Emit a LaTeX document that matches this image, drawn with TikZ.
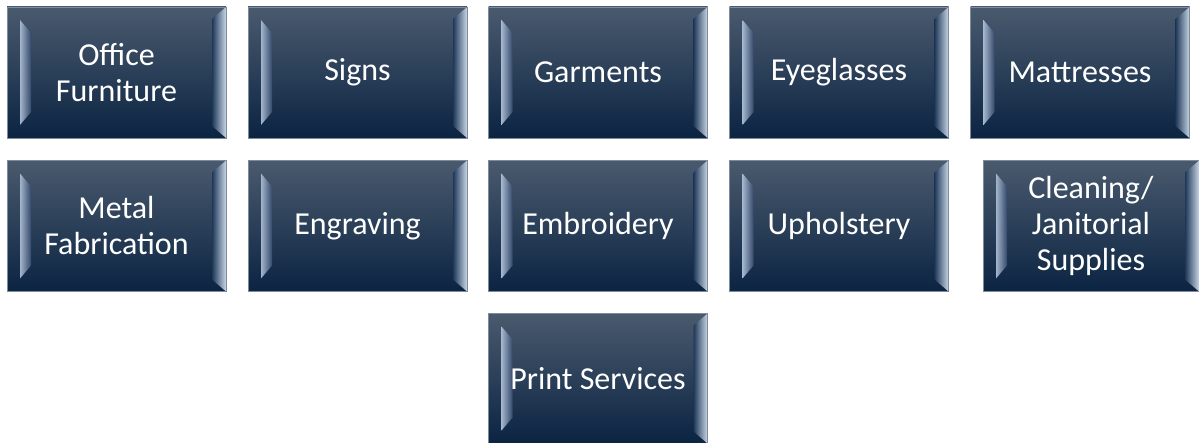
\documentclass[tikz,border=0pt]{standalone}
\usepackage{fontspec}
\setmainfont{Carlito}
\usetikzlibrary{calc}
\definecolor{boxtop}{HTML}{4A5A6E}
\definecolor{boxmid}{HTML}{1A3251}
\definecolor{boxbot}{HTML}{0B2442}
\definecolor{lfin}{HTML}{A3B5CC}
\definecolor{lfout}{HTML}{34496A}
\definecolor{rfin}{HTML}{1F3858}
\definecolor{rfmid}{HTML}{52698A}
\definecolor{rfout}{HTML}{C8D6E6}
\definecolor{boxedge}{HTML}{7E8B9A}
\begin{document}
\begin{tikzpicture}[x=0.5pt,y=-0.5pt,
  bevelbox/.style={
    draw=boxedge, line width=0.4pt, inner sep=0pt,
    minimum width=109.5pt, minimum height=65.5pt,
    text=white, align=center,
    font=\fontsize{16}{18}\selectfont,
    path picture={
      \coordinate (pNW) at (path picture bounding box.north west);
      \coordinate (pNE) at (path picture bounding box.north east);
      \coordinate (pSW) at (path picture bounding box.south west);
      \coordinate (pSE) at (path picture bounding box.south east);
      \shade[top color=boxtop, middle color=boxmid, bottom color=boxbot]
        (pNW) rectangle (pSE);
      \shade[left color=lfin, right color=lfout]
        ($(pNW)+(6.5pt,-6.5pt)$) -- ($(pNW)+(12pt,-13pt)$) --
        ($(pSW)+(12pt,13pt)$) -- ($(pSW)+(6.5pt,6.5pt)$) -- cycle;
      \shade[left color=rfin, middle color=rfmid, right color=rfout]
        (pNE) -- ($(pNE)+(-7pt,-6pt)$) -- ($(pSE)+(-7pt,6pt)$) -- (pSE) -- cycle;
    }
  }]
\useasboundingbox[fill=white] (0,0) rectangle (1199,443);
\node[bevelbox] (n1) at (116.5,72.5) {Office\\Furniture};
\node[bevelbox] (n2) at (357.5,72.5) {Signs};
\node[bevelbox] (n3) at (598,72.5) {Garments};
\node[bevelbox] (n4) at (839,72.5) {Eyeglasses};
\node[bevelbox] (n5) at (1080,72.5) {Mattresses};
\node[bevelbox] (n6) at (116.5,226) {Metal\\Fabrication};
\node[bevelbox] (n7) at (357.5,226) {Engraving};
\node[bevelbox] (n8) at (598,226) {Embroidery};
\node[bevelbox] (n9) at (839,226) {Upholstery};
\node[bevelbox, minimum width=108pt] (n10) at (1091,226) {Cleaning/\\Janitorial\\Supplies};
\node[bevelbox, minimum height=65pt] (n11) at (598,378.5) {Print Services};
\end{tikzpicture}
\end{document}
